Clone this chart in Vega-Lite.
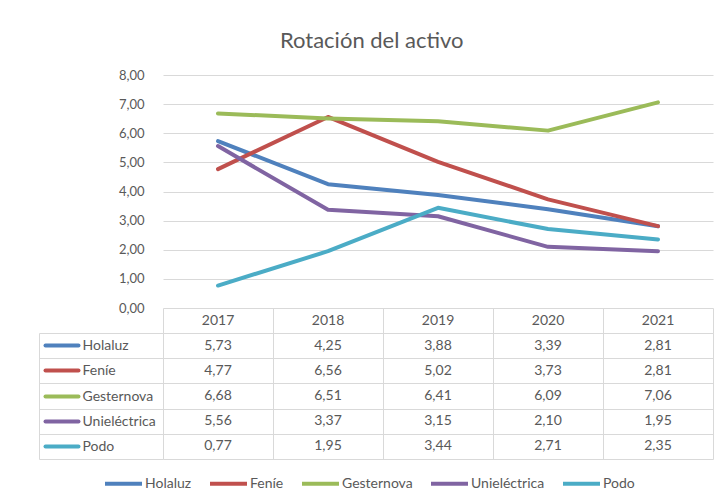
{
  "$schema": "https://vega.github.io/schema/vega-lite/v6.json",
  "padding": {"left": 38, "top": 30, "right": 8, "bottom": 5},
  "background": "white",
  "title": {"text": "Rotación del activo", "fontSize": 22, "font": "Lato", "fontWeight": "normal", "color": "#595959", "anchor": "middle", "offset": 16, "dx": -4},
  "data": {"values": [
    {"series": "Holaluz", "year": "2017", "value": 5.73},
    {"series": "Holaluz", "year": "2018", "value": 4.25},
    {"series": "Holaluz", "year": "2019", "value": 3.88},
    {"series": "Holaluz", "year": "2020", "value": 3.39},
    {"series": "Holaluz", "year": "2021", "value": 2.81},
    {"series": "Feníe", "year": "2017", "value": 4.77},
    {"series": "Feníe", "year": "2018", "value": 6.56},
    {"series": "Feníe", "year": "2019", "value": 5.02},
    {"series": "Feníe", "year": "2020", "value": 3.73},
    {"series": "Feníe", "year": "2021", "value": 2.81},
    {"series": "Gesternova", "year": "2017", "value": 6.68},
    {"series": "Gesternova", "year": "2018", "value": 6.51},
    {"series": "Gesternova", "year": "2019", "value": 6.41},
    {"series": "Gesternova", "year": "2020", "value": 6.09},
    {"series": "Gesternova", "year": "2021", "value": 7.06},
    {"series": "Unieléctrica", "year": "2017", "value": 5.56},
    {"series": "Unieléctrica", "year": "2018", "value": 3.37},
    {"series": "Unieléctrica", "year": "2019", "value": 3.15},
    {"series": "Unieléctrica", "year": "2020", "value": 2.10},
    {"series": "Unieléctrica", "year": "2021", "value": 1.95},
    {"series": "Podo", "year": "2017", "value": 0.77},
    {"series": "Podo", "year": "2018", "value": 1.95},
    {"series": "Podo", "year": "2019", "value": 3.44},
    {"series": "Podo", "year": "2020", "value": 2.71},
    {"series": "Podo", "year": "2021", "value": 2.35}
  ]},
  "spacing": 0,
  "bounds": "flush",
  "vconcat": [
    {
      "width": 550,
      "height": 233,
      "mark": {"type": "line", "strokeWidth": 4, "strokeCap": "round", "strokeJoin": "round"},
      "encoding": {
        "x": {"field": "year", "type": "ordinal", "scale": {"type": "point", "padding": 0.5}, "axis": null},
        "y": {"field": "value", "type": "quantitative", "scale": {"domain": [0, 8]},
          "axis": {"values": [0, 1, 2, 3, 4, 5, 6, 7, 8], "format": ".2f", "title": null, "domain": false, "ticks": false, "labelPadding": 19, "gridColor": "#d9d9d9", "labelFontSize": 13}},
        "color": {"field": "series", "type": "nominal",
          "scale": {"domain": ["Holaluz", "Feníe", "Gesternova", "Unieléctrica", "Podo"], "range": ["#4F81BD", "#C0504D", "#9BBB59", "#8064A2", "#4BACC6"]},
          "legend": {"orient": "none", "legendX": -60, "legendY": 388, "padding": 0, "direction": "horizontal", "title": null, "symbolType": "stroke", "symbolSize": 1369, "symbolStrokeWidth": 4, "labelFontSize": 14, "labelColor": "#595959", "labelOffset": 1, "columnPadding": 10}}
      }
    },
    {
      "width": 550,
      "height": 25,
      "transform": [{"filter": "datum.series === 'Holaluz'"}],
      "mark": {"type": "text", "fontSize": 14, "color": "#595959"},
      "encoding": {
        "x": {"field": "year", "type": "ordinal", "scale": {"type": "band", "paddingInner": 0, "paddingOuter": 0},
          "axis": {"orient": "top", "title": null, "labels": false, "domain": false, "ticks": false, "grid": true, "tickBand": "extent", "gridColor": "#d9d9d9", "minExtent": 0, "maxExtent": 0}},
        "text": {"field": "year", "type": "nominal"}
      }
    },
    {
      "width": 550,
      "height": 126,
      "layer": [
        {
          "mark": {"type": "text", "fontSize": 14, "color": "#595959"},
          "encoding": {
            "x": {"field": "year", "type": "ordinal", "scale": {"type": "band", "paddingInner": 0, "paddingOuter": 0},
              "axis": {"orient": "top", "title": null, "labels": false, "domain": false, "ticks": false, "grid": true, "tickBand": "extent", "gridColor": "#d9d9d9", "minExtent": 0, "maxExtent": 0}},
            "y": {"field": "series", "type": "nominal",
              "scale": {"domain": ["Holaluz", "Feníe", "Gesternova", "Unieléctrica", "Podo"], "paddingInner": 0, "paddingOuter": 0},
              "axis": {"orient": "left", "offset": 124, "title": null, "tickBand": "extent", "tickSize": -124, "tickColor": "#d9d9d9",
                "domainColor": "#d9d9d9", "grid": true, "gridColor": "#d9d9d9", "labelAlign": "left", "labelPadding": 81, "labelFontSize": 14}},
            "text": {"field": "value", "type": "quantitative", "format": ".2f"}
          }
        },
        {
          "mark": {"type": "point", "opacity": 0},
          "encoding": {
            "x": {"field": "year", "type": "ordinal", "axis": null},
            "y": {"field": "series", "type": "nominal",
              "axis": {"orient": "left", "offset": 118, "title": null, "labels": false, "domain": false, "grid": false, "tickSize": -33, "tickWidth": 4, "tickCap": "round",
                "tickColor": {"condition": [
                  {"test": "datum.value === 'Holaluz'", "value": "#4F81BD"},
                  {"test": "datum.value === 'Feníe'", "value": "#C0504D"},
                  {"test": "datum.value === 'Gesternova'", "value": "#9BBB59"},
                  {"test": "datum.value === 'Unieléctrica'", "value": "#8064A2"},
                  {"test": "datum.value === 'Podo'", "value": "#4BACC6"}
                ], "value": "transparent"}}}
          }
        }
      ],
      "resolve": {"axis": {"x": "independent", "y": "independent"}}
    }
  ],
  "config": {
    "font": "Lato",
    "locale": {"number": {"decimal": ",", "thousands": ".", "grouping": [3], "currency": ["", " €"]}},
    "view": {"stroke": null},
    "axis": {"labelColor": "#595959", "labelFont": "Lato"},
    "legend": {"labelFont": "Lato"}
  }
}
